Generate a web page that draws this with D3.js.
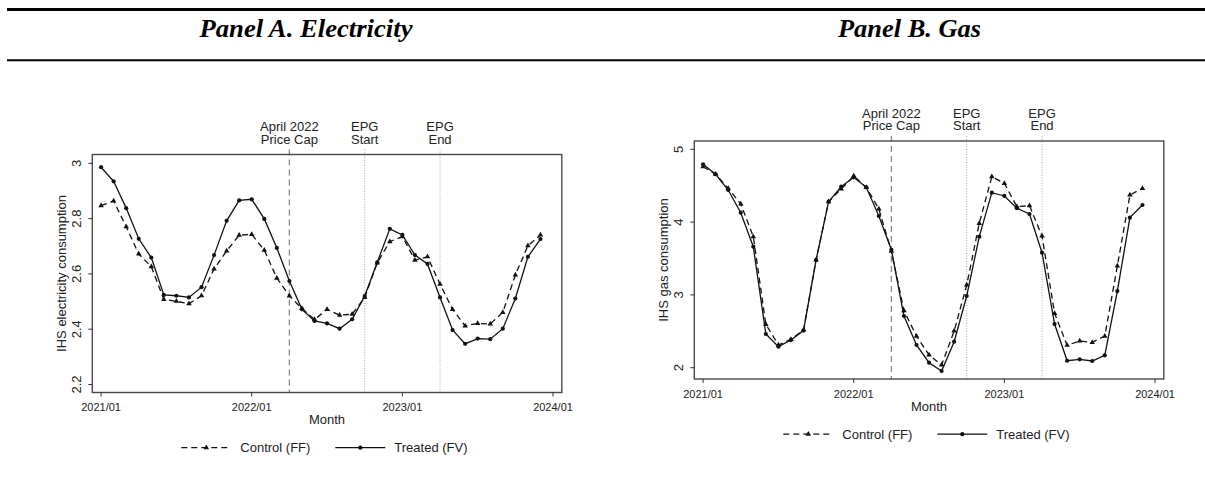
<!DOCTYPE html>
<html>
<head>
<meta charset="utf-8">
<script src="https://cdn.jsdelivr.net/npm/d3@7"></script>
<style>
    body { margin: 0; background: #fff; }
    svg { display: block; font-family: "Liberation Sans", Arial, sans-serif; }
</style>
</head>
<body>
<div id="chart"></div>
<script>
// monthly categories, 2021/01 .. 2023/12
const months = [
    "2021/01","2021/02","2021/03","2021/04","2021/05","2021/06","2021/07","2021/08","2021/09","2021/10","2021/11","2021/12",
    "2022/01","2022/02","2022/03","2022/04","2022/05","2022/06","2022/07","2022/08","2022/09","2022/10","2022/11","2022/12",
    "2023/01","2023/02","2023/03","2023/04","2023/05","2023/06","2023/07","2023/08","2023/09","2023/10","2023/11","2023/12"
];
const xTickLabels = ["2021/01", "2022/01", "2023/01", "2024/01"];

const elecControl = [2.847, 2.864, 2.771, 2.672, 2.626, 2.508, 2.501, 2.492, 2.521, 2.618, 2.683, 2.740,
                     2.743, 2.686, 2.585, 2.520, 2.475, 2.435, 2.472, 2.451, 2.454, 2.515, 2.640, 2.717,
                     2.735, 2.650, 2.662, 2.563, 2.472, 2.412, 2.421, 2.419, 2.461, 2.596, 2.702, 2.741];
const elecTreated = [2.986, 2.935, 2.838, 2.727, 2.659, 2.524, 2.521, 2.515, 2.552, 2.668, 2.792, 2.866,
                     2.870, 2.799, 2.694, 2.574, 2.472, 2.430, 2.421, 2.402, 2.436, 2.520, 2.642, 2.763,
                     2.741, 2.668, 2.636, 2.515, 2.397, 2.347, 2.366, 2.364, 2.402, 2.511, 2.662, 2.726];
const gasControl = [4.761, 4.657, 4.464, 4.249, 3.800, 2.596, 2.312, 2.390, 2.518, 3.479, 4.280, 4.455,
                    4.633, 4.478, 4.180, 3.600, 2.783, 2.435, 2.175, 2.037, 2.504, 3.136, 3.983, 4.624,
                    4.533, 4.212, 4.225, 3.809, 2.747, 2.308, 2.367, 2.349, 2.435, 3.397, 4.372, 4.464];
const gasTreated = [4.794, 4.657, 4.441, 4.129, 3.662, 2.463, 2.289, 2.380, 2.510, 3.479, 4.280, 4.487,
                    4.615, 4.478, 4.084, 3.620, 2.710, 2.312, 2.069, 1.955, 2.357, 2.985, 3.800, 4.404,
                    4.359, 4.190, 4.111, 3.580, 2.600, 2.096, 2.115, 2.092, 2.170, 3.053, 4.061, 4.235];

const elecTicks = [2.2, 2.4, 2.6, 2.8, 3];
const gasTicks = [2, 3, 4, 5];

const eventMonths = ["2022/04", "2022/10", "2023/04"];
const eventLabels = [["April 2022", "Price Cap"], ["EPG", "Start"], ["EPG", "End"]];
const legendLabels = ["Control (FF)", "Treated (FV)"];
const panelTitles = ["Panel A. Electricity", "Panel B. Gas"];

const width = 1205, height = 477;
const plotW = 469.5, plotH = 238;

const monthIndex = s => (+s.slice(0, 4) - 2021) * 12 + (+s.slice(5) - 1);

const svg = d3.select("#chart").append("svg")
    .attr("width", width)
    .attr("height", height);

// table header rules and titles
svg.append("line").attr("x1", 7).attr("x2", width).attr("y1", 9.5).attr("y2", 9.5)
    .attr("stroke", "#000").attr("stroke-width", 3);
svg.append("line").attr("x1", 7).attr("x2", width).attr("y1", 60.3).attr("y2", 60.3)
    .attr("stroke", "#000").attr("stroke-width", 2);

const titlePos = [{x: 306, w: 213}, {x: 909.5, w: 143}];
panelTitles.forEach((t, i) => {
    svg.append("text")
        .attr("x", titlePos[i].x - titlePos[i].w / 2)
        .attr("y", 37)
        .attr("textLength", titlePos[i].w)
        .attr("lengthAdjust", "spacingAndGlyphs")
        .style("font-family", "'Liberation Serif', 'Times New Roman', serif")
        .style("font-weight", "bold")
        .style("font-style", "italic")
        .style("font-size", "26px")
        .text(t);
});

const panels = [
    {left: 92.3, top: 154.5, yDomain: [2.171, 3.032], ticks: elecTicks,
     ylabel: "IHS electricity consumption", control: elecControl, treated: elecTreated},
    {left: 694.3, top: 141, yDomain: [1.845, 5.114], ticks: gasTicks,
     ylabel: "IHS gas consumption", control: gasControl, treated: gasTreated}
];

const ink = "#111";

panels.forEach(p => {
    const g = svg.append("g").attr("transform", `translate(${p.left},${p.top})`);

    const x = d3.scaleLinear().domain([-0.7, 36.7]).range([0, plotW]);
    const y = d3.scaleLinear().domain(p.yDomain).range([plotH, 0]);

    // event lines
    eventMonths.forEach((m, i) => {
        const xv = x(monthIndex(m));
        g.append("line")
            .attr("x1", xv).attr("x2", xv)
            .attr("y1", -5).attr("y2", plotH)
            .attr("stroke", i === 0 ? "#8a8a8a" : "#a8a8a8")
            .attr("stroke-width", i === 0 ? 1.3 : 1)
            .attr("stroke-dasharray", i === 0 ? "6,4" : "1,1.6");
        eventLabels[i].forEach((line, j) => {
            g.append("text")
                .attr("x", xv)
                .attr("y", -23.5 + j * 12.7)
                .attr("text-anchor", "middle")
                .style("font-size", "13px")
                .attr("fill", "#222")
                .text(line);
        });
    });

    // plot frame
    g.append("rect")
        .attr("width", plotW).attr("height", plotH)
        .attr("fill", "none")
        .attr("stroke", "#4a4a4a")
        .attr("stroke-width", 1.4);

    // y axis
    const yAxis = g.append("g");
    yAxis.selectAll("line").data(p.ticks).enter().append("line")
        .attr("x1", -4).attr("x2", 0)
        .attr("y1", d => y(d)).attr("y2", d => y(d))
        .attr("stroke", "#333").attr("stroke-width", 1);
    yAxis.selectAll("text").data(p.ticks).enter().append("text")
        .attr("transform", d => `translate(-16,${y(d)}) rotate(-90)`)
        .attr("text-anchor", "middle")
        .attr("dy", "0.35em")
        .style("font-size", "13px")
        .attr("fill", "#222")
        .text(d => String(d));
    g.append("text")
        .attr("transform", `translate(-31,${plotH / 2}) rotate(-90)`)
        .attr("text-anchor", "middle")
        .attr("dy", "0.35em")
        .style("font-size", "13px")
        .attr("fill", "#222")
        .text(p.ylabel);

    // x axis
    const xAxis = g.append("g");
    xAxis.selectAll("line").data(xTickLabels).enter().append("line")
        .attr("x1", d => x(monthIndex(d))).attr("x2", d => x(monthIndex(d)))
        .attr("y1", plotH).attr("y2", plotH + 4)
        .attr("stroke", "#333").attr("stroke-width", 1);
    xAxis.selectAll("text").data(xTickLabels).enter().append("text")
        .attr("x", d => x(monthIndex(d)))
        .attr("y", plotH + 15)
        .attr("dy", "0.35em")
        .attr("text-anchor", "middle")
        .style("font-size", "11px")
        .attr("fill", "#222")
        .text(d => d);
    g.append("text")
        .attr("x", plotW / 2)
        .attr("y", plotH + 27)
        .attr("dy", "0.35em")
        .attr("text-anchor", "middle")
        .style("font-size", "13px")
        .attr("fill", "#222")
        .text("Month");

    // series
    const line = d3.line()
        .x((d, i) => x(monthIndex(months[i])))
        .y(d => y(d));
    g.append("path")
        .attr("d", line(p.control))
        .attr("fill", "none")
        .attr("stroke", ink)
        .attr("stroke-width", 1.3)
        .attr("stroke-dasharray", "6,4");
    g.append("path")
        .attr("d", line(p.treated))
        .attr("fill", "none")
        .attr("stroke", ink)
        .attr("stroke-width", 1.3);

    const tri = d3.symbol(d3.symbolTriangle).size(13);
    g.selectAll(".ctl").data(p.control).enter().append("path")
        .attr("class", "ctl")
        .attr("d", tri)
        .attr("transform", (d, i) => `translate(${x(monthIndex(months[i]))},${y(d)})`)
        .attr("fill", ink);
    g.selectAll(".trt").data(p.treated).enter().append("circle")
        .attr("class", "trt")
        .attr("cx", (d, i) => x(monthIndex(months[i])))
        .attr("cy", d => y(d))
        .attr("r", 2.1)
        .attr("fill", ink);

    // legend
    const ly = plotH + 55.2;
    const leg = g.append("g");
    leg.append("line").attr("x1", 89).attr("x2", 139).attr("y1", ly).attr("y2", ly)
        .attr("stroke", ink).attr("stroke-width", 1.3).attr("stroke-dasharray", "6,4");
    leg.append("path").attr("d", tri).attr("transform", `translate(114,${ly})`).attr("fill", ink);
    leg.append("text").attr("x", 148).attr("y", ly).attr("dy", "0.35em")
        .style("font-size", "13px").attr("fill", "#222").text(legendLabels[0]);
    leg.append("line").attr("x1", 243).attr("x2", 293).attr("y1", ly).attr("y2", ly)
        .attr("stroke", ink).attr("stroke-width", 1.3);
    leg.append("circle").attr("cx", 268).attr("cy", ly).attr("r", 2.1).attr("fill", ink);
    leg.append("text").attr("x", 302).attr("y", ly).attr("dy", "0.35em")
        .style("font-size", "13px").attr("fill", "#222").text(legendLabels[1]);
});
</script>
</body>
</html>
